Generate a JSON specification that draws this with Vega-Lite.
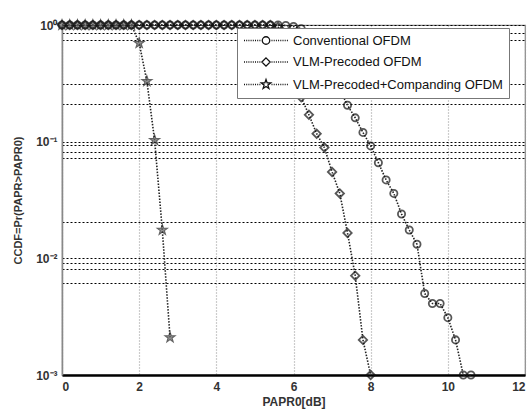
{
  "$schema": "https://vega.github.io/schema/vega-lite/v6.json",
  "width": 463,
  "height": 350,
  "autosize": {"type": "none"},
  "padding": {"left": 62, "top": 25, "right": 6, "bottom": 40},
  "background": "white",
  "config": {"view": {"stroke": "#888", "strokeWidth": 1.2}, "font": "Liberation Sans"},
  "data": {"values": [
    {"series": "Conventional OFDM", "papr": 0, "ccdf": 1},
    {"series": "Conventional OFDM", "papr": 0.2, "ccdf": 1},
    {"series": "Conventional OFDM", "papr": 0.4, "ccdf": 1},
    {"series": "Conventional OFDM", "papr": 0.6, "ccdf": 1},
    {"series": "Conventional OFDM", "papr": 0.8, "ccdf": 1},
    {"series": "Conventional OFDM", "papr": 1.0, "ccdf": 1},
    {"series": "Conventional OFDM", "papr": 1.2, "ccdf": 1},
    {"series": "Conventional OFDM", "papr": 1.4, "ccdf": 1},
    {"series": "Conventional OFDM", "papr": 1.6, "ccdf": 1},
    {"series": "Conventional OFDM", "papr": 1.8, "ccdf": 1},
    {"series": "Conventional OFDM", "papr": 2.0, "ccdf": 1},
    {"series": "Conventional OFDM", "papr": 2.2, "ccdf": 1},
    {"series": "Conventional OFDM", "papr": 2.4, "ccdf": 1},
    {"series": "Conventional OFDM", "papr": 2.6, "ccdf": 1},
    {"series": "Conventional OFDM", "papr": 2.8, "ccdf": 1},
    {"series": "Conventional OFDM", "papr": 3.0, "ccdf": 1},
    {"series": "Conventional OFDM", "papr": 3.2, "ccdf": 1},
    {"series": "Conventional OFDM", "papr": 3.4, "ccdf": 1},
    {"series": "Conventional OFDM", "papr": 3.6, "ccdf": 1},
    {"series": "Conventional OFDM", "papr": 3.8, "ccdf": 1},
    {"series": "Conventional OFDM", "papr": 4.0, "ccdf": 1},
    {"series": "Conventional OFDM", "papr": 4.2, "ccdf": 1},
    {"series": "Conventional OFDM", "papr": 4.4, "ccdf": 1},
    {"series": "Conventional OFDM", "papr": 4.6, "ccdf": 1},
    {"series": "Conventional OFDM", "papr": 4.8, "ccdf": 1},
    {"series": "Conventional OFDM", "papr": 5.0, "ccdf": 1},
    {"series": "Conventional OFDM", "papr": 5.2, "ccdf": 1},
    {"series": "Conventional OFDM", "papr": 5.4, "ccdf": 1},
    {"series": "Conventional OFDM", "papr": 5.6, "ccdf": 1},
    {"series": "Conventional OFDM", "papr": 5.8, "ccdf": 0.99},
    {"series": "Conventional OFDM", "papr": 6.0, "ccdf": 0.97},
    {"series": "Conventional OFDM", "papr": 6.2, "ccdf": 0.93},
    {"series": "Conventional OFDM", "papr": 6.4, "ccdf": 0.86},
    {"series": "Conventional OFDM", "papr": 6.6, "ccdf": 0.75},
    {"series": "Conventional OFDM", "papr": 6.8, "ccdf": 0.6},
    {"series": "Conventional OFDM", "papr": 7.0, "ccdf": 0.43},
    {"series": "Conventional OFDM", "papr": 7.2, "ccdf": 0.28},
    {"series": "Conventional OFDM", "papr": 7.4, "ccdf": 0.205},
    {"series": "Conventional OFDM", "papr": 7.6, "ccdf": 0.16},
    {"series": "Conventional OFDM", "papr": 7.8, "ccdf": 0.12},
    {"series": "Conventional OFDM", "papr": 8.0, "ccdf": 0.092},
    {"series": "Conventional OFDM", "papr": 8.2, "ccdf": 0.066},
    {"series": "Conventional OFDM", "papr": 8.4, "ccdf": 0.047},
    {"series": "Conventional OFDM", "papr": 8.6, "ccdf": 0.036},
    {"series": "Conventional OFDM", "papr": 8.8, "ccdf": 0.024},
    {"series": "Conventional OFDM", "papr": 9.0, "ccdf": 0.0175},
    {"series": "Conventional OFDM", "papr": 9.2, "ccdf": 0.0132},
    {"series": "Conventional OFDM", "papr": 9.4, "ccdf": 0.005},
    {"series": "Conventional OFDM", "papr": 9.6, "ccdf": 0.0041},
    {"series": "Conventional OFDM", "papr": 9.8, "ccdf": 0.0041},
    {"series": "Conventional OFDM", "papr": 10.0, "ccdf": 0.0031},
    {"series": "Conventional OFDM", "papr": 10.2, "ccdf": 0.002},
    {"series": "Conventional OFDM", "papr": 10.4, "ccdf": 0.001},
    {"series": "Conventional OFDM", "papr": 10.6, "ccdf": 0.001},
    {"series": "VLM-Precoded OFDM", "papr": 0, "ccdf": 1},
    {"series": "VLM-Precoded OFDM", "papr": 0.2, "ccdf": 1},
    {"series": "VLM-Precoded OFDM", "papr": 0.4, "ccdf": 1},
    {"series": "VLM-Precoded OFDM", "papr": 0.6, "ccdf": 1},
    {"series": "VLM-Precoded OFDM", "papr": 0.8, "ccdf": 1},
    {"series": "VLM-Precoded OFDM", "papr": 1.0, "ccdf": 1},
    {"series": "VLM-Precoded OFDM", "papr": 1.2, "ccdf": 1},
    {"series": "VLM-Precoded OFDM", "papr": 1.4, "ccdf": 1},
    {"series": "VLM-Precoded OFDM", "papr": 1.6, "ccdf": 1},
    {"series": "VLM-Precoded OFDM", "papr": 1.8, "ccdf": 1},
    {"series": "VLM-Precoded OFDM", "papr": 2.0, "ccdf": 1},
    {"series": "VLM-Precoded OFDM", "papr": 2.2, "ccdf": 1},
    {"series": "VLM-Precoded OFDM", "papr": 2.4, "ccdf": 1},
    {"series": "VLM-Precoded OFDM", "papr": 2.6, "ccdf": 1},
    {"series": "VLM-Precoded OFDM", "papr": 2.8, "ccdf": 1},
    {"series": "VLM-Precoded OFDM", "papr": 3.0, "ccdf": 1},
    {"series": "VLM-Precoded OFDM", "papr": 3.2, "ccdf": 1},
    {"series": "VLM-Precoded OFDM", "papr": 3.4, "ccdf": 1},
    {"series": "VLM-Precoded OFDM", "papr": 3.6, "ccdf": 1},
    {"series": "VLM-Precoded OFDM", "papr": 3.8, "ccdf": 1},
    {"series": "VLM-Precoded OFDM", "papr": 4.0, "ccdf": 1},
    {"series": "VLM-Precoded OFDM", "papr": 4.2, "ccdf": 1},
    {"series": "VLM-Precoded OFDM", "papr": 4.4, "ccdf": 1},
    {"series": "VLM-Precoded OFDM", "papr": 4.6, "ccdf": 1},
    {"series": "VLM-Precoded OFDM", "papr": 4.8, "ccdf": 1},
    {"series": "VLM-Precoded OFDM", "papr": 5.0, "ccdf": 1},
    {"series": "VLM-Precoded OFDM", "papr": 5.2, "ccdf": 1},
    {"series": "VLM-Precoded OFDM", "papr": 5.4, "ccdf": 1},
    {"series": "VLM-Precoded OFDM", "papr": 5.6, "ccdf": 0.96},
    {"series": "VLM-Precoded OFDM", "papr": 5.8, "ccdf": 0.75},
    {"series": "VLM-Precoded OFDM", "papr": 6.0, "ccdf": 0.42},
    {"series": "VLM-Precoded OFDM", "papr": 6.2, "ccdf": 0.24},
    {"series": "VLM-Precoded OFDM", "papr": 6.4, "ccdf": 0.17},
    {"series": "VLM-Precoded OFDM", "papr": 6.6, "ccdf": 0.117},
    {"series": "VLM-Precoded OFDM", "papr": 6.8, "ccdf": 0.089},
    {"series": "VLM-Precoded OFDM", "papr": 7.0, "ccdf": 0.055},
    {"series": "VLM-Precoded OFDM", "papr": 7.2, "ccdf": 0.036},
    {"series": "VLM-Precoded OFDM", "papr": 7.4, "ccdf": 0.0165},
    {"series": "VLM-Precoded OFDM", "papr": 7.6, "ccdf": 0.0071},
    {"series": "VLM-Precoded OFDM", "papr": 7.8, "ccdf": 0.002},
    {"series": "VLM-Precoded OFDM", "papr": 8.0, "ccdf": 0.001},
    {"series": "VLM-Precoded+Companding OFDM", "papr": 0, "ccdf": 1},
    {"series": "VLM-Precoded+Companding OFDM", "papr": 0.2, "ccdf": 1},
    {"series": "VLM-Precoded+Companding OFDM", "papr": 0.4, "ccdf": 1},
    {"series": "VLM-Precoded+Companding OFDM", "papr": 0.6, "ccdf": 1},
    {"series": "VLM-Precoded+Companding OFDM", "papr": 0.8, "ccdf": 1},
    {"series": "VLM-Precoded+Companding OFDM", "papr": 1.0, "ccdf": 1},
    {"series": "VLM-Precoded+Companding OFDM", "papr": 1.2, "ccdf": 1},
    {"series": "VLM-Precoded+Companding OFDM", "papr": 1.4, "ccdf": 1},
    {"series": "VLM-Precoded+Companding OFDM", "papr": 1.6, "ccdf": 1},
    {"series": "VLM-Precoded+Companding OFDM", "papr": 1.8, "ccdf": 1},
    {"series": "VLM-Precoded+Companding OFDM", "papr": 2.0, "ccdf": 0.7},
    {"series": "VLM-Precoded+Companding OFDM", "papr": 2.2, "ccdf": 0.33},
    {"series": "VLM-Precoded+Companding OFDM", "papr": 2.4, "ccdf": 0.103},
    {"series": "VLM-Precoded+Companding OFDM", "papr": 2.6, "ccdf": 0.0175},
    {"series": "VLM-Precoded+Companding OFDM", "papr": 2.8, "ccdf": 0.0021}
  ]},
  "encoding": {
    "x": {
      "field": "papr", "type": "quantitative",
      "scale": {"domain": [0, 12], "nice": false},
      "axis": {
        "values": [0, 2, 4, 6, 8, 10, 12], "title": "PAPR0[dB]",
        "grid": true, "gridColor": "#999", "gridDash": [1, 2], "gridWidth": 1.2,
        "domainColor": "black", "domainWidth": 2.5, "ticks": false,
        "labelFontWeight": "bold", "labelFontSize": 12, "labelColor": "#333", "labelPadding": 6,
        "titleFontWeight": "bold", "titleFontSize": 12, "titleColor": "#333",
        "titleY": 21, "titleBaseline": "top"
      }
    },
    "y": {
      "field": "ccdf", "type": "quantitative",
      "scale": {"type": "log", "domain": [0.001, 1], "nice": false},
      "axis": {
        "values": [1, 0.85, 0.74, 0.31, 0.21, 0.1, 0.093, 0.081, 0.072, 0.0205, 0.01, 0.0092, 0.0081, 0.0062, 0.001],
        "labelExpr": "datum.value > 0.99 ? '10⁰' : (datum.value > 0.0999 && datum.value < 0.1001) ? '10⁻¹' : (datum.value > 0.00999 && datum.value < 0.01001) ? '10⁻²' : datum.value < 0.00101 ? '10⁻³' : ''",
        "labelOverlap": false, "labelBound": false,
        "title": "CCDF=Pr(PAPR>PAPR0)",
        "grid": true, "gridColor": "black", "gridDash": [2, 2], "gridWidth": 1,
        "domainColor": "#888", "domainWidth": 1.5, "ticks": false,
        "labelFontWeight": "bold", "labelFontSize": 12, "labelColor": "#333", "labelPadding": 5,
        "titleFontWeight": "bold", "titleFontSize": 11, "titleColor": "#333",
        "titleAngle": 270, "titleX": -44, "titleY": 175, "titleAlign": "center", "titleBaseline": "middle"
      }
    }
  },
  "layer": [
    {
      "mark": {"type": "line", "color": "#222", "strokeWidth": 1.6, "strokeDash": [1.5, 1.5]},
      "encoding": {"detail": {"field": "series", "type": "nominal"}}
    },
    {
      "transform": [{"filter": "datum.series == 'Conventional OFDM'"}],
      "mark": {"type": "point", "shape": "circle", "size": 52, "color": "#111", "filled": false, "strokeWidth": 1.8}
    },
    {
      "transform": [{"filter": "datum.series == 'VLM-Precoded OFDM'"}],
      "mark": {"type": "point", "shape": "diamond", "size": 70, "color": "#111", "filled": false, "strokeWidth": 1.8}
    },
    {
      "transform": [{"filter": "datum.series == 'VLM-Precoded+Companding OFDM'"}],
      "mark": {"type": "point", "shape": "M0,-1 L0.235,-0.324 L0.951,-0.309 L0.380,0.124 L0.588,0.809 L0,0.4 L-0.588,0.809 L-0.380,0.124 L-0.951,-0.309 L-0.235,-0.324 Z", "size": 110, "filled": true, "fill": "#666", "stroke": "#222", "strokeWidth": 1.2}
    },
    {
      "mark": {"type": "point", "opacity": 0, "color": "#111", "filled": false},
      "encoding": {
        "shape": {
          "field": "series", "type": "nominal",
          "scale": {
            "domain": ["Conventional OFDM", "VLM-Precoded OFDM", "VLM-Precoded+Companding OFDM"],
            "range": [
              "M-1,0h0.18M-0.6,0h0.18M-0.2,0h0.18M0.2,0h0.18M0.6,0h0.18M1,0h0.18M1.4,0h0.18M1.8,0h0.18M4,0h0.18M4.4,0h0.18M4.8,0h0.18M5.2,0h0.18M5.6,0h0.18M6,0h0.18M6.4,0h0.18M6.8,0h0.18M2.32,0A0.68,0.68 0 1,0 3.68,0A0.68,0.68 0 1,0 2.32,0Z",
              "M-1,0h0.18M-0.6,0h0.18M-0.2,0h0.18M0.2,0h0.18M0.6,0h0.18M1,0h0.18M1.4,0h0.18M1.8,0h0.18M4,0h0.18M4.4,0h0.18M4.8,0h0.18M5.2,0h0.18M5.6,0h0.18M6,0h0.18M6.4,0h0.18M6.8,0h0.18M3,-0.75L3.75,0L3,0.75L2.25,0Z",
              "M-1,0h0.18M-0.6,0h0.18M-0.2,0h0.18M0.2,0h0.18M0.6,0h0.18M1,0h0.18M1.4,0h0.18M1.8,0h0.18M4,0h0.18M4.4,0h0.18M4.8,0h0.18M5.2,0h0.18M5.6,0h0.18M6,0h0.18M6.4,0h0.18M6.8,0h0.18M3,-0.9L3.212,-0.292L3.856,-0.278L3.342,0.112L3.529,0.728L3,0.36L2.471,0.728L2.658,0.112L2.144,-0.278L2.788,-0.292Z"
            ]
          },
          "legend": {
            "orient": "none", "legendX": 175, "legendY": 3, "title": null,
            "fillColor": "white", "strokeColor": "#777", "padding": 6, "rowPadding": 6.5,
            "symbolSize": 121, "symbolStrokeWidth": 1.3, "symbolStrokeColor": "#111",
            "symbolFillColor": "transparent", "symbolOpacity": 1,
            "labelOffset": 37, "labelFontSize": 13, "labelColor": "#111", "labelLimit": 400
          }
        }
      }
    }
  ]
}
